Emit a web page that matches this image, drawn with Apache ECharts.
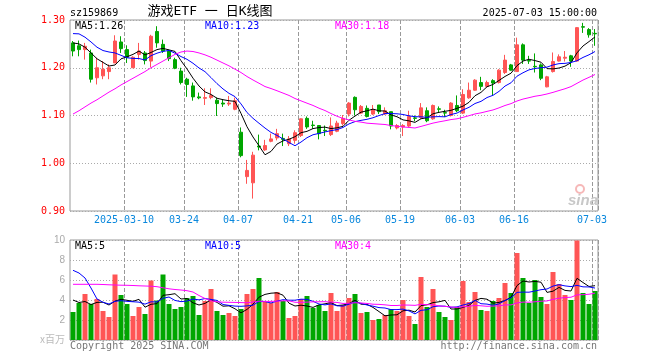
<!DOCTYPE html>
<html>
<head>
<meta charset="utf-8">
<script src="https://cdn.jsdelivr.net/npm/echarts@6/dist/echarts.min.js"></script>
<style>
html,body{margin:0;padding:0;background:#fff;}
#chart{width:660px;height:360px;}
</style>
</head>
<body>
<div id="chart"></div>
<script>
const dates = [
'2025-02-25','2025-02-26','2025-02-27','2025-02-28',
'2025-03-03','2025-03-04','2025-03-05','2025-03-06','2025-03-07',
'2025-03-10','2025-03-11','2025-03-12','2025-03-13','2025-03-14',
'2025-03-17','2025-03-18','2025-03-19','2025-03-20','2025-03-21',
'2025-03-24','2025-03-25','2025-03-26','2025-03-27','2025-03-28',
'2025-03-31','2025-04-01','2025-04-02','2025-04-03',
'2025-04-07','2025-04-08','2025-04-09','2025-04-10','2025-04-11',
'2025-04-14','2025-04-15','2025-04-16','2025-04-17','2025-04-18',
'2025-04-21','2025-04-22','2025-04-23','2025-04-24','2025-04-25',
'2025-04-28','2025-04-29','2025-04-30',
'2025-05-06','2025-05-07','2025-05-08','2025-05-09',
'2025-05-12','2025-05-13','2025-05-14','2025-05-15','2025-05-16',
'2025-05-19','2025-05-20','2025-05-21','2025-05-22','2025-05-23',
'2025-05-26','2025-05-27','2025-05-28','2025-05-29','2025-05-30',
'2025-06-03','2025-06-04','2025-06-05','2025-06-06',
'2025-06-09','2025-06-10','2025-06-11','2025-06-12','2025-06-13',
'2025-06-16','2025-06-17','2025-06-18','2025-06-19','2025-06-20',
'2025-06-23','2025-06-24','2025-06-25','2025-06-26','2025-06-27',
'2025-06-30','2025-07-01','2025-07-02','2025-07-03'];

const opens = [1.252,1.246,1.238,1.231,1.179,1.183,1.192,1.210,1.254,1.238,
1.200,1.228,1.231,1.214,1.276,1.249,1.235,1.217,1.193,1.176,
1.162,1.139,1.136,1.1375,1.132,1.126,1.124,1.113,1.065,0.972,
0.959,1.036,1.028,1.046,1.053,1.052,1.041,1.048,1.058,1.094,
1.080,1.079,1.069,1.060,1.067,1.083,1.103,1.138,1.105,1.115,
1.103,1.122,1.103,1.108,1.074,1.076,1.078,1.095,1.096,1.110,
1.093,1.114,1.106,1.100,1.121,1.105,1.137,1.153,1.169,1.161,
1.173,1.169,1.190,1.206,1.192,1.248,1.215,1.203,1.206,1.160,
1.192,1.214,1.220,1.225,1.214,1.286,1.280,1.272];

const closes = [1.235,1.238,1.245,1.176,1.200,1.197,1.200,1.256,1.240,1.222,
1.222,1.235,1.215,1.266,1.252,1.235,1.219,1.199,1.169,1.165,
1.139,1.137,1.1375,1.142,1.125,1.124,1.126,1.131,1.016,0.985,
1.017,1.034,1.037,1.051,1.062,1.050,1.051,1.064,1.093,1.076,
1.079,1.062,1.068,1.078,1.084,1.094,1.126,1.112,1.119,1.098,
1.112,1.108,1.110,1.078,1.079,1.079,1.098,1.094,1.116,1.089,
1.121,1.113,1.105,1.126,1.110,1.144,1.153,1.174,1.161,1.169,
1.168,1.195,1.216,1.195,1.248,1.216,1.214,1.202,1.178,1.181,
1.213,1.223,1.222,1.214,1.284,1.285,1.269,1.271];

const lows = [1.224,1.224,1.217,1.169,1.165,1.176,1.176,1.210,1.231,1.210,
1.200,1.217,1.207,1.201,1.242,1.231,1.214,1.197,1.165,1.139,
1.131,1.134,1.122,1.134,1.099,1.118,1.120,1.111,1.0125,0.957,
0.926,1.027,1.026,1.044,1.048,1.036,1.036,1.041,1.055,1.072,
1.072,1.050,1.057,1.057,1.065,1.079,1.098,1.100,1.103,1.096,
1.101,1.103,1.101,1.071,1.071,1.057,1.075,1.088,1.093,1.086,
1.091,1.107,1.097,1.098,1.107,1.103,1.135,1.152,1.153,1.159,
1.142,1.167,1.187,1.194,1.192,1.208,1.208,1.190,1.174,1.159,
1.190,1.213,1.213,1.202,1.213,1.273,1.263,1.246];

const highs = [1.256,1.257,1.252,1.238,1.221,1.214,1.207,1.268,1.266,1.247,
1.224,1.252,1.235,1.269,1.287,1.259,1.238,1.221,1.200,1.179,
1.169,1.148,1.157,1.157,1.1375,1.134,1.141,1.1375,1.075,1.007,
1.024,1.060,1.049,1.062,1.072,1.062,1.057,1.069,1.094,1.098,
1.089,1.080,1.079,1.096,1.089,1.101,1.128,1.140,1.122,1.121,
1.122,1.122,1.117,1.108,1.082,1.082,1.110,1.100,1.126,1.117,
1.123,1.119,1.112,1.128,1.142,1.155,1.169,1.176,1.181,1.173,
1.176,1.197,1.227,1.208,1.263,1.251,1.225,1.230,1.209,1.183,
1.232,1.228,1.235,1.227,1.285,1.294,1.283,1.281];

// volume, unit: million
const volumes = [2.8,3.7,4.6,3.6,4.1,2.9,2.3,6.55,4.5,3.6,
2.4,3.3,2.6,5.95,3.95,6.55,3.6,3.1,3.3,4.2,
4.4,2.5,3.9,5.1,2.9,2.5,2.7,2.4,3.1,4.6,
5.1,6.2,3.8,3.7,4.8,3.9,2.2,2.4,4.1,4.4,
3.2,3.5,2.9,4.7,2.9,3.5,4.2,4.6,2.7,2.8,
2.0,2.1,2.5,3.1,2.9,4.0,2.4,1.6,6.3,3.3,
5.1,2.8,2.3,2.0,3.3,5.9,3.8,4.8,3.0,2.9,
3.9,4.2,5.7,4.7,8.7,6.2,3.7,6.0,4.3,3.6,
6.8,5.6,4.5,4.0,9.95,4.7,3.6,4.9];

// moving-average values before enough visible days exist
const ma5Head = [1.252,1.250,1.243,1.231];
const ma10Head = [1.2715,1.271,1.264,1.254,1.243,1.236,1.233,1.231,1.226];
const ma30Head = [1.103,1.110,1.118,1.126,1.133,1.141,1.149,1.156,1.164,1.171,
1.178,1.185,1.192,1.200,1.207,1.214,1.221,1.228,1.233,1.235,
1.234,1.231,1.227,1.222,1.216,1.210,1.204,1.197,1.190];
const vma5Head = [4.0,3.75,3.85,3.55];
const vma10Head = [6.97,6.7,6.2,5.2,4.1,3.77,3.6,3.87,3.93];
const vma30Head = [5.57,5.57,5.57,5.57,5.57,5.55,5.52,5.5,5.48,5.47,
5.45,5.42,5.4,5.38,5.33,5.22,5.12,5.05,5.0,4.93,
4.8,4.45,4.15,3.92,3.82,3.78,3.77,3.76,3.74];

const labelDates = ['2025-03-10','2025-03-24','2025-04-07','2025-04-21','2025-05-06',
'2025-05-19','2025-06-03','2025-06-16','2025-07-03'];
const priceTicks = [0.90, 1.30, 0.10];   // min, max, step
const volTicks = [0, 10, 2];

const RED = '#ff5555', GREEN = '#00a600';
const MONO = "'DejaVu Sans Mono','Noto Sans CJK SC',monospace";

function ma(arr, n, head) {
  return arr.map((v, i) => {
    if (i < n - 1) return head[i];
    let s = 0;
    for (let k = i - n + 1; k <= i; k++) s += arr[k];
    return s / n;
  });
}
const ma5 = ma(closes, 5, ma5Head), ma10 = ma(closes, 10, ma10Head), ma30 = ma(closes, 30, ma30Head);
const vma5 = ma(volumes, 5, vma5Head), vma10 = ma(volumes, 10, vma10Head), vma30 = ma(volumes, 30, vma30Head);
const last = dates.length - 1;
const t2 = v => (Math.floor(v * 100 + 1e-6) / 100).toFixed(2);
const t0 = v => String(Math.floor(v));

const kData = dates.map((d, i) => [opens[i], closes[i], lows[i], highs[i]]);
const volData = volumes.map((v, i) => ({value: v, itemStyle: {color: closes[i] >= opens[i] ? RED : GREEN}}));

const labelIdx = labelDates.map(d => dates.indexOf(d));
function isLabel(idx, val) { return labelIdx.indexOf(+idx) >= 0; }

function txt(x, y, text, color, align, font) {
  return {type: 'text', x: x, y: y, silent: true, z: 100,
    style: {text: text, fill: color, align: align, textAlign: align,
      verticalAlign: 'middle', textVerticalAlign: 'middle',
      font: font || ('10px ' + MONO)}};
}

const chart = echarts.init(document.getElementById('chart'));
const GL = 70, GW = 528;
function catAxis(gi, withLabels) {
  return {
    type: 'category', gridIndex: gi, data: dates,
    axisLine: {show: false},
    axisTick: {show: true, interval: isLabel, inside: true, length: 1, lineStyle: {color: 'rgba(0,0,0,0)'}},
    splitLine: {show: true, interval: isLabel, lineStyle: {color: '#999999', type: 'dashed', width: 1}},
    axisLabel: withLabels ? {show: true, interval: isLabel, color: '#0a88dd', margin: 4,
        fontFamily: MONO, fontSize: 10, padding: [0, 6, 0, 0],
        formatter: v => v === labelDates[0] ? v : v.slice(5)} : {show: false}
  };
}
chart.setOption({
  animationDuration: 100,
  grid: [
    {left: GL, top: 20, width: GW, height: 191, show: true, borderColor: '#999999'},
    {left: GL, top: 240, width: GW, height: 100, show: true, borderColor: '#999999'}
  ],
  xAxis: [catAxis(0, true), catAxis(1, false)],
  yAxis: [
    {type: 'value', gridIndex: 0, min: priceTicks[0], max: priceTicks[1], interval: priceTicks[2],
      axisLine: {show: false}, axisTick: {show: false},
      axisLabel: {color: '#ff0000', fontFamily: MONO, fontSize: 10, margin: 5, formatter: v => v.toFixed(2)},
      splitLine: {show: true, lineStyle: {color: '#aaaaaa', type: [1, 2]}}},
    {type: 'value', gridIndex: 1, min: volTicks[0], max: volTicks[1], interval: volTicks[2],
      axisLine: {show: false}, axisTick: {show: false},
      axisLabel: {color: '#aaaaaa', fontFamily: "'Liberation Sans',sans-serif", fontSize: 10, margin: 5,
        formatter: v => v === 0 ? '' : String(v)},
      splitLine: {show: true, lineStyle: {color: '#aaaaaa', type: [1, 2]}}}
  ],
  series: [
    {type: 'candlestick', xAxisIndex: 0, yAxisIndex: 0, data: kData, barWidth: 4,
      itemStyle: {color: RED, color0: GREEN, borderColor: RED, borderColor0: GREEN, borderWidth: 1}},
    {type: 'line', xAxisIndex: 0, yAxisIndex: 0, data: ma5, symbol: 'none', lineStyle: {color: '#000000', width: 1}},
    {type: 'line', xAxisIndex: 0, yAxisIndex: 0, data: ma10, symbol: 'none', lineStyle: {color: '#0000ff', width: 1}},
    {type: 'line', xAxisIndex: 0, yAxisIndex: 0, data: ma30, symbol: 'none', lineStyle: {color: '#ff00ff', width: 1}},
    {type: 'bar', xAxisIndex: 1, yAxisIndex: 1, data: volData, barWidth: 5},
    {type: 'line', xAxisIndex: 1, yAxisIndex: 1, data: vma5, symbol: 'none', lineStyle: {color: '#000000', width: 1}},
    {type: 'line', xAxisIndex: 1, yAxisIndex: 1, data: vma10, symbol: 'none', lineStyle: {color: '#0000ff', width: 1}},
    {type: 'line', xAxisIndex: 1, yAxisIndex: 1, data: vma30, symbol: 'none', lineStyle: {color: '#ff00ff', width: 1}}
  ],
  graphic: [
    txt(70, 13, 'sz159869', '#000000', 'left'),
    txt(210, 12, '游戏ETF 一 日K线图', '#000000', 'center', '13px ' + MONO),
    txt(597, 13, dates[last] + ' 15:00:00', '#000000', 'right'),
    txt(75, 26, 'MA5:' + t2(ma5[last]), '#000000', 'left'),
    txt(205, 26, 'MA10:' + t2(ma10[last]), '#0000ff', 'left'),
    txt(335, 26, 'MA30:' + t2(ma30[last]), '#ff00ff', 'left'),
    txt(75, 246.5, 'MA5:' + t0(vma5[last]), '#000000', 'left'),
    txt(205, 246.5, 'MA10:' + t0(vma10[last]), '#0000ff', 'left'),
    txt(335, 246.5, 'MA30:' + t0(vma30[last]), '#ff00ff', 'left'),
    txt(65, 339.5, 'x百万', '#bbbbbb', 'right', "10px 'Noto Sans CJK SC',sans-serif"),
    txt(70, 346, 'Copyright 2025 SINA.COM', '#777777', 'left'),
    txt(597, 346, 'http://finance.sina.com.cn', '#777777', 'right'),
    {type: 'circle', shape: {cx: 580, cy: 189, r: 4}, silent: true, z: 1,
      style: {fill: 'none', stroke: '#f6b8b8', lineWidth: 2}},
    txt(583, 201, 'sina', '#c8c8c8', 'center', "italic bold 15px 'Liberation Sans',sans-serif")
  ]
});
</script>
</body>
</html>
